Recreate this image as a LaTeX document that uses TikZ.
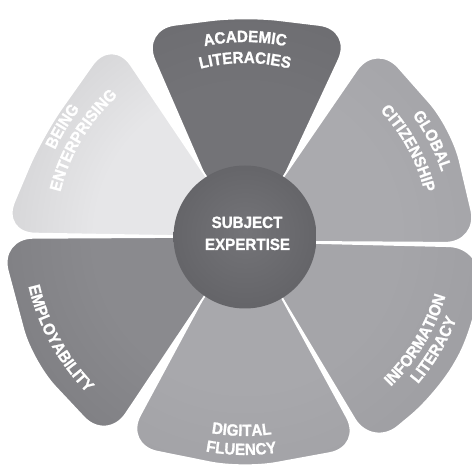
\documentclass[tikz,border=0pt]{standalone}
\usepackage{fontspec}
\usetikzlibrary{calc,decorations.text}
\newfontfamily\lblfont{Liberation Sans Bold}[FakeStretch=0.93, FakeBold=1.2]
\newcommand\lbl{\lblfont\fontsize{16.3}{19}\selectfont\color{white}}

\definecolor{topA}{HTML}{737377}\definecolor{topB}{HTML}{66666A}\definecolor{topC}{HTML}{5C5C60}
\definecolor{urA}{HTML}{AAAAAE}\definecolor{urB}{HTML}{9F9FA3}\definecolor{urC}{HTML}{7D7D81}
\definecolor{lrA}{HTML}{A5A5A9}\definecolor{lrB}{HTML}{9A9A9E}\definecolor{lrC}{HTML}{737377}
\definecolor{btA}{HTML}{A8A8AC}\definecolor{btB}{HTML}{9D9DA1}\definecolor{btC}{HTML}{7E7E82}
\definecolor{llA}{HTML}{8A8A8E}\definecolor{llB}{HTML}{77777B}\definecolor{llC}{HTML}{68686C}
\definecolor{ulA}{HTML}{E6E6E8}\definecolor{ulB}{HTML}{D2D2D4}\definecolor{ulC}{HTML}{B3B3B5}\definecolor{ulD}{HTML}{A3A3A5}
\definecolor{cA}{HTML}{747478}\definecolor{cB}{HTML}{636367}\definecolor{cC}{HTML}{525256}

\pgfdeclareradialshading{shTop}{\pgfpoint{0bp}{0bp}}{color(0bp)=(topA); color(8bp)=(topA); color(18bp)=(topB); color(25bp)=(topC); color(50bp)=(topC)}
\pgfdeclareradialshading{shUR}{\pgfpoint{0bp}{0bp}}{color(0bp)=(urA); color(8bp)=(urA); color(18bp)=(urB); color(25bp)=(urC); color(50bp)=(urC)}
\pgfdeclareradialshading{shLR}{\pgfpoint{0bp}{0bp}}{color(0bp)=(lrA); color(8bp)=(lrA); color(18bp)=(lrB); color(25bp)=(lrC); color(50bp)=(lrC)}
\pgfdeclareradialshading{shBT}{\pgfpoint{0bp}{0bp}}{color(0bp)=(btA); color(8bp)=(btA); color(18bp)=(btB); color(25bp)=(btC); color(50bp)=(btC)}
\pgfdeclareradialshading{shLL}{\pgfpoint{0bp}{0bp}}{color(0bp)=(llA); color(8bp)=(llA); color(18bp)=(llB); color(25bp)=(llC); color(50bp)=(llC)}
\pgfdeclareradialshading{shUL}{\pgfpoint{0bp}{0bp}}{color(0bp)=(ulA); color(8bp)=(ulA); color(14bp)=(ulB); color(21bp)=(ulC); color(25bp)=(ulD); color(50bp)=(ulD)}
\pgfdeclareradialshading{shCirc}{\pgfpoint{0bp}{2bp}}{color(0bp)=(cA); color(28bp)=(cB); color(50bp)=(cC)}

\tikzset{
  petalgap/.style={draw=white, line width=1.8pt, rounded corners=34pt},
  ctext/.style={font=\lblfont\fontsize{16.3}{19}\selectfont, text=white, inner sep=0pt, anchor=base},
  hub/.style={circle, minimum size=143pt, inner sep=0pt, shading=shCirc}
}

% #1 shading, #2 base1, #3 vertex1, #4 middle outer points, #5 vertex2, #6 base2
\newcommand\mypetal[6]{%
  \coordinate (pb1) at #2; \coordinate (pv1) at #3;
  \coordinate (pv2) at #5; \coordinate (pb2) at #6;
  \coordinate (ps1) at ($(pb1)!-40pt!(pv1)$);
  \coordinate (ps2) at ($(pb2)!-40pt!(pv2)$);
  \begin{scope}
    \clip[rounded corners=34pt] (ps1) -- (pv1) #4 -- (pv2) -- (ps2) -- cycle;
    \shade[shading=#1] (O) circle (470);
  \end{scope}
  \draw[petalgap] (ps1) -- (pv1) #4 -- (pv2) -- (ps2) -- cycle;
}

% clockwise arc text (tops outward): angle, radius, half span, text
\newcommand\uptext[4]{%
  \pgfmathsetmacro\sa{#1+#3}\pgfmathsetmacro\ea{#1-#3}%
  \path (O) ++(\sa:#2) coordinate (ts);
  \path[decorate, decoration={text along path, text align=center, text={|\lbl|#4}}]
    (ts) arc[start angle=\sa, end angle=\ea, radius=#2];
}
% counterclockwise arc text (tops inward)
\newcommand\lowtext[4]{%
  \pgfmathsetmacro\sa{#1-#3}\pgfmathsetmacro\ea{#1+#3}%
  \path (O) ++(\sa:#2) coordinate (ts);
  \path[decorate, decoration={text along path, text align=center, text={|\lbl|#4}}]
    (ts) arc[start angle=\sa, end angle=\ea, radius=#2];
}

\begin{document}
\begin{tikzpicture}[x=1pt,y=1pt]
\useasboundingbox (0,0) rectangle (472,466);
\fill[white] (0,0) rectangle (472,466);

\begin{scope}[shift={(0,466)}, yscale=-1]
  \coordinate (O) at (245,237);
  % top: academic literacies
  \mypetal{shTop}{(203,172)}{(141,29)}{-- (245,16)}{(353,29)}{(286,173)}
  % upper right: global citizenship
  \mypetal{shUR}{(286,173)}{(376,42)}{-- (452,128)}{(479,243)}{(317,242)}
  % lower right: information literacy
  \mypetal{shLR}{(317,243)}{(483,247)}{-- (474,330) -- (437,394)}{(372,448)}{(282,298)}
  % bottom: digital fluency
  \mypetal{shBT}{(282,298)}{(363,447)}{-- (243,469)}{(124,445)}{(202,300)}
  % lower left: employability
  \mypetal{shLL}{(202,300)}{(107,442)}{-- (32,362)}{(-1,238)}{(173,237)}
  % upper left: being enterprising
  \mypetal{shUL}{(173,236)}{(1,233)}{-- (42,136)}{(112,37)}{(203,172)}
\end{scope}

\node[hub] (hub) at (O) {};
\node[ctext] (subj) at (247,238) {SUBJECT};
\node[ctext] (expe) at (247.5,216) {EXPERTISE};

\uptext{90}{195}{40}{ACADEMIC}
\uptext{90}{174}{40}{LITERACIES}
\uptext{27.2}{207}{40}{GLOBAL}
\uptext{28.5}{185}{40}{CITIZENSHIP}
\uptext{148.8}{209}{40}{BEING}
\uptext{149.2}{190}{40}{ENTERPRISING}
\lowtext{208.7}{222}{40}{EMPLOYABILITY}
\lowtext{-31.1}{209}{40}{INFORMATION}
\lowtext{-30.8}{227}{40}{LITERACY}
\lowtext{-91}{199}{40}{DIGITAL}
\lowtext{-91}{218}{40}{FLUENCY}
\end{tikzpicture}
\end{document}
